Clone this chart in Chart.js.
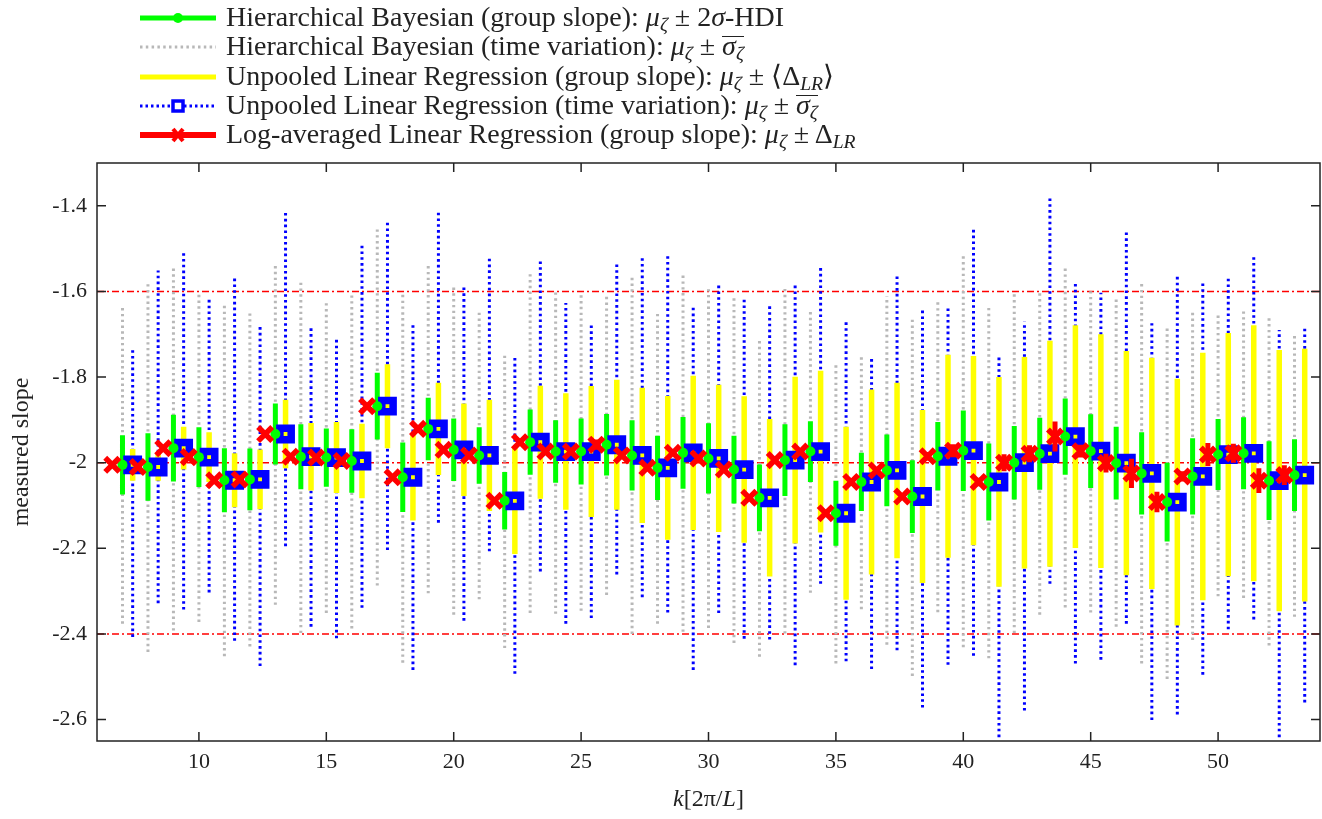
<!DOCTYPE html>
<html>
<head>
<meta charset="utf-8">
<script src="https://cdn.jsdelivr.net/npm/chart.js@4.4.1/dist/chart.umd.min.js"></script>
<style>
    html, body { margin: 0; padding: 0; background: #fff; }
    #wrap { position: relative; width: 1322px; height: 819px; overflow: hidden; }
    #chart { position: absolute; left: 0; top: 0; }
    .legend { position: absolute; left: 0; top: 0; font-family: "Liberation Serif", serif; font-size: 28px; color: #222; }
    .row { position: absolute; left: 140px; height: 29px; line-height: 29px; white-space: nowrap; display: flex; align-items: center; }
    .row svg { margin-right: 10px; flex: none; }
    .m { font-style: italic; }
    .sub { font-size: 70%; position: relative; top: 0.3em; }
    .ovl { display: inline-block; line-height: 16px; border-top: 1.5px solid #222; padding-top: 1px; }
    #xtitle { position: absolute; left: 0; width: 1417px; top: 785px; text-align: center; font-family: "Liberation Serif", serif; font-size: 24px; color: #222; }
</style>
</head>
<body>
<div id="wrap">
    <canvas id="chart" width="1322" height="819"></canvas>
    <div class="legend">
        <div class="row" style="top:3px">
            <svg width="76" height="14"><line x1="0" y1="7" x2="76" y2="7" stroke="#00ff00" stroke-width="5"/><circle cx="38" cy="7" r="5" fill="#00ff00"/></svg>
            <span>Hierarchical Bayesian (group slope): <span class="m">μ</span><span class="sub m">ζ</span> ± 2<span class="m">σ</span>-HDI</span>
        </div>
        <div class="row" style="top:32px">
            <svg width="76" height="14"><line x1="0" y1="7" x2="76" y2="7" stroke="#b8b8b8" stroke-width="3" stroke-dasharray="2.5 3.3"/></svg>
            <span>Hierarchical Bayesian (time variation): <span class="m">μ</span><span class="sub m">ζ</span> ± <span class="ovl"><span class="m">σ</span><span class="sub m">ζ</span></span></span>
        </div>
        <div class="row" style="top:62px">
            <svg width="76" height="14"><line x1="0" y1="7" x2="76" y2="7" stroke="#ffff00" stroke-width="5"/></svg>
            <span>Unpooled Linear Regression (group slope): <span class="m">μ</span><span class="sub m">ζ</span> ± ⟨Δ<span class="sub m">LR</span>⟩</span>
        </div>
        <div class="row" style="top:91px">
            <svg width="76" height="16"><line x1="0" y1="8" x2="76" y2="8" stroke="#0000ff" stroke-width="3" stroke-dasharray="2.5 3"/><rect x="33" y="3" width="10" height="10" fill="#fff" stroke="#0000ff" stroke-width="3.5"/></svg>
            <span>Unpooled Linear Regression (time variation): <span class="m">μ</span><span class="sub m">ζ</span> ± <span class="ovl"><span class="m">σ</span><span class="sub m">ζ</span></span></span>
        </div>
        <div class="row" style="top:120px">
            <svg width="76" height="16"><line x1="0" y1="8" x2="76" y2="8" stroke="#ff0000" stroke-width="6"/><line x1="33" y1="2" x2="43" y2="14" stroke="#ff0000" stroke-width="4"/><line x1="43" y1="2" x2="33" y2="14" stroke="#ff0000" stroke-width="4"/></svg>
            <span>Log-averaged Linear Regression (group slope): <span class="m">μ</span><span class="sub m">ζ</span> ± Δ<span class="sub m">LR</span></span>
        </div>
    </div>
    <div id="xtitle"><span class="m">k</span>[2π/<span class="m">L</span>]</div>
</div>
<script>
    // wavenumber bins
    var kValues = [7, 8, 9, 10, 11, 12, 13, 14, 15, 16, 17, 18, 19, 20, 21, 22, 23, 24, 25, 26,
        27, 28, 29, 30, 31, 32, 33, 34, 35, 36, 37, 38, 39, 40, 41, 42, 43, 44, 45, 46, 47, 48, 49, 50, 51, 52, 53];

    // mean slope mu_zeta per bin
    var slopeMean = [-2.005, -2.010, -1.966, -1.987, -2.041, -2.039, -1.933, -1.986, -1.988, -1.996,
        -1.868, -2.034, -1.921, -1.970, -1.983, -2.089, -1.952, -1.974, -1.974, -1.958,
        -1.983, -2.012, -1.977, -1.990, -2.016, -2.082, -1.994, -1.974, -2.118, -2.045,
        -2.018, -2.079, -1.985, -1.972, -2.045, -2.000, -1.979, -1.939, -1.973, -2.001,
        -2.025, -2.092, -2.032, -1.981, -1.978, -2.042, -2.029];

    // hierarchical bayesian 2 sigma HDI (half width)
    var hdiHalf = [0.069, 0.079, 0.078, 0.070, 0.075, 0.072, 0.071, 0.076, 0.068, 0.074,
        0.078, 0.081, 0.073, 0.073, 0.066, 0.067, 0.076, 0.073, 0.077, 0.072,
        0.082, 0.075, 0.084, 0.082, 0.079, 0.078, 0.084, 0.071, 0.076, 0.068,
        0.084, 0.085, 0.080, 0.094, 0.090, 0.086, 0.084, 0.089, 0.086, 0.085,
        0.096, 0.092, 0.089, 0.083, 0.084, 0.092, 0.084];

    // hierarchical bayesian time variation sigma (half width)
    var hbTimeHalf = [0.371, 0.432, 0.426, 0.385, 0.411, 0.390, 0.399, 0.412, 0.363, 0.391,
        0.419, 0.433, 0.384, 0.385, 0.336, 0.344, 0.399, 0.379, 0.372, 0.351,
        0.417, 0.364, 0.418, 0.396, 0.405, 0.371, 0.405, 0.330, 0.351, 0.297,
        0.407, 0.419, 0.364, 0.459, 0.412, 0.398, 0.376, 0.399, 0.377, 0.382,
        0.444, 0.413, 0.382, 0.331, 0.338, 0.385, 0.331];

    // unpooled linear regression <Delta_LR> (half width)
    var lrHalf = [0.037, 0.032, 0.050, 0.058, 0.063, 0.070, 0.080, 0.079, 0.083, 0.087,
        0.098, 0.101, 0.108, 0.108, 0.130, 0.124, 0.132, 0.136, 0.153, 0.152,
        0.158, 0.168, 0.180, 0.172, 0.171, 0.184, 0.195, 0.189, 0.202, 0.216,
        0.205, 0.202, 0.237, 0.221, 0.245, 0.247, 0.264, 0.260, 0.273, 0.262,
        0.270, 0.288, 0.289, 0.284, 0.299, 0.305, 0.295];

    // unpooled linear regression time variation (top / bottom)
    var lrTimeTop = [-1.737, -1.551, -1.508, -1.617, -1.566, -1.683, -1.412, -1.679, -1.709, -1.490,
        -1.436, -1.672, -1.411, -1.586, -1.520, -1.751, -1.527, -1.627, -1.677, -1.531,
        -1.517, -1.512, -1.633, -1.586, -1.614, -1.632, -1.586, -1.542, -1.668, -1.754,
        -1.560, -1.639, -1.633, -1.452, -1.751, -1.671, -1.380, -1.577, -1.603, -1.462,
        -1.674, -1.559, -1.575, -1.564, -1.513, -1.690, -1.683];
    var lrTimeBottom = [-2.407, -2.328, -2.343, -2.303, -2.416, -2.475, -2.195, -2.383, -2.410, -2.339,
        -2.204, -2.484, -2.140, -2.369, -2.207, -2.493, -2.254, -2.376, -2.363, -2.261,
        -2.314, -2.350, -2.484, -2.351, -2.411, -2.413, -2.473, -2.283, -2.464, -2.482,
        -2.438, -2.572, -2.472, -2.451, -2.641, -2.579, -2.283, -2.469, -2.460, -2.376,
        -2.601, -2.588, -2.495, -2.389, -2.366, -2.641, -2.560];

    // log-averaged linear regression Delta_LR (half width)
    var logLrHalf = [0.006, 0.006, 0.006, 0.006, 0.006, 0.006, 0.006, 0.006, 0.006, 0.006,
        0.006, 0.006, 0.006, 0.006, 0.006, 0.006, 0.006, 0.006, 0.006, 0.012,
        0.006, 0.006, 0.006, 0.006, 0.006, 0.006, 0.006, 0.006, 0.006, 0.006,
        0.006, 0.006, 0.010, 0.015, 0.010, 0.020, 0.020, 0.035, 0.015, 0.022,
        0.034, 0.024, 0.012, 0.027, 0.022, 0.029, 0.023];

    var xTickValues = [10, 15, 20, 25, 30, 35, 40, 45, 50];
    var yTickValues = [-2.6, -2.4, -2.2, -2, -1.8, -1.6, -1.4];
    var refLevels = [-1.6, -2.0, -2.4];

    var FONT = '"Liberation Serif", serif';

    function errSegments(offset, lo, hi) {
        var pts = [];
        for (var i = 0; i < kValues.length; i++) {
            var x = kValues[i] + offset;
            pts.push({ x: x, y: lo[i] }, { x: x, y: hi[i] }, { x: x, y: null });
        }
        return pts;
    }

    function halfBounds(half, sign) {
        return slopeMean.map(function (m, i) { return m + sign * half[i]; });
    }

    function centres(offset) {
        return kValues.map(function (k, i) { return { x: k + offset, y: slopeMean[i] }; });
    }

    var refPoints = [];
    refLevels.forEach(function (v) {
        refPoints.push({ x: 6, y: v }, { x: 54, y: v }, { x: 54, y: null });
    });

    // inward ticks on all four sides + frame, like gnuplot
    var framePlugin = {
        id: 'frame',
        afterDatasetsDraw: function (chart) {
            var ctx = chart.ctx, a = chart.chartArea;
            var xs = chart.scales.x, ys = chart.scales.y;
            ctx.save();
            ctx.strokeStyle = '#222';
            ctx.lineWidth = 1.5;
            ctx.beginPath();
            xTickValues.forEach(function (v) {
                var px = xs.getPixelForValue(v);
                ctx.moveTo(px, a.bottom); ctx.lineTo(px, a.bottom - 9);
                ctx.moveTo(px, a.top); ctx.lineTo(px, a.top + 9);
            });
            yTickValues.forEach(function (v) {
                var py = ys.getPixelForValue(v);
                ctx.moveTo(a.left, py); ctx.lineTo(a.left + 9, py);
                ctx.moveTo(a.right, py); ctx.lineTo(a.right - 9, py);
            });
            ctx.stroke();
            ctx.strokeRect(a.left, a.top, a.right - a.left, a.bottom - a.top);
            ctx.restore();
        }
    };

    new Chart(document.getElementById('chart'), {
        type: 'line',
        data: {
            datasets: [
                {
                    data: centres(-0.4), showLine: false, pointStyle: 'crossRot', pointRadius: 10,
                    borderColor: '#ff0000', backgroundColor: '#ff0000', pointBorderWidth: 5.5, order: 1
                },
                {
                    data: errSegments(-0.4, halfBounds(logLrHalf, -1), halfBounds(logLrHalf, 1)),
                    borderColor: '#ff0000', borderWidth: 5, pointRadius: 0, order: 2
                },
                {
                    data: centres(0), showLine: false, pointStyle: 'circle', pointRadius: 5,
                    backgroundColor: '#00ff00', borderColor: '#00ff00', pointBorderWidth: 0, order: 3
                },
                {
                    data: centres(0.4), showLine: false, pointStyle: 'rect', pointRadius: 8,
                    backgroundColor: 'rgba(0,0,0,0)', borderColor: '#0000ff', pointBorderWidth: 7.5, order: 4
                },
                {
                    data: errSegments(0.4, halfBounds(lrHalf, -1), halfBounds(lrHalf, 1)),
                    borderColor: '#ffff00', borderWidth: 5.5, pointRadius: 0, order: 5
                },
                {
                    data: errSegments(0, halfBounds(hdiHalf, -1), halfBounds(hdiHalf, 1)),
                    borderColor: '#00ff00', borderWidth: 5, pointRadius: 0, order: 6
                },
                {
                    data: errSegments(0.4, lrTimeBottom, lrTimeTop),
                    borderColor: '#0000ff', borderWidth: 3, borderDash: [2.6, 3.2], pointRadius: 0, order: 7
                },
                {
                    data: errSegments(0, halfBounds(hbTimeHalf, -1), halfBounds(hbTimeHalf, 1)),
                    borderColor: '#b8b8b8', borderWidth: 3, borderDash: [2.4, 3.4], pointRadius: 0, order: 8
                },
                {
                    data: refPoints, borderColor: '#ff0000', borderWidth: 1.6,
                    borderDash: [7, 3, 2, 3], pointRadius: 0, order: 9
                }
            ]
        },
        options: {
            responsive: false,
            animation: false,
            events: [],
            spanGaps: false,
            elements: { line: { tension: 0 } },
            layout: { autoPadding: false, padding: { top: 163, right: 2, left: 0, bottom: 0 } },
            plugins: { legend: { display: false }, tooltip: { enabled: false } },
            scales: {
                x: {
                    type: 'linear', min: 6, max: 54,
                    grid: { display: false, drawTicks: false },
                    border: { display: false },
                    ticks: { font: { family: FONT, size: 22 }, color: '#222', padding: 8, maxRotation: 0, autoSkip: false },
                    afterBuildTicks: function (s) { s.ticks = xTickValues.map(function (v) { return { value: v }; }); },
                    afterFit: function (s) { s.height = 78; s.paddingLeft = 0; s.paddingRight = 0; }
                },
                y: {
                    min: -2.65, max: -1.3,
                    grid: { display: false, drawTicks: false },
                    border: { display: false },
                    ticks: {
                        font: { family: FONT, size: 22 }, color: '#222', padding: 10,
                        callback: function (v) { return String(+v.toFixed(1)); }
                    },
                    title: { display: true, text: 'measured slope', font: { family: FONT, size: 24 }, color: '#222', padding: { top: 7 } },
                    afterBuildTicks: function (s) { s.ticks = yTickValues.map(function (v) { return { value: v }; }); },
                    afterFit: function (s) { s.width = 97; }
                }
            }
        },
        plugins: [framePlugin]
    });
</script>
</body>
</html>
